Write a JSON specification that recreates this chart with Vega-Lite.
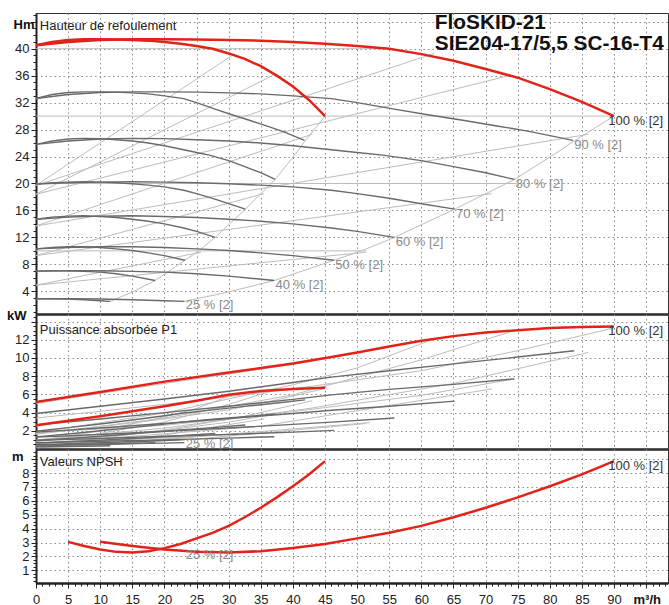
{
"$schema":"https://vega.github.io/schema/vega-lite/v6.json",
"padding":{"left":6,"top":11,"right":2,"bottom":0},
"spacing":0,
"bounds":"flush",
"config":{"font":"Liberation Sans","view":{"stroke":"#333","strokeWidth":1},
"axis":{"labelFont":"Liberation Sans","titleFont":"Liberation Sans","labelFontSize":13,"labelColor":"#222","tickColor":"#222","domainColor":"#222","gridColor":"#8c8c8c","gridDash":[1.5,3],"gridWidth":1,"titleFontSize":13,"titleFontWeight":"bold","titleColor":"#111","labelOverlap":false,"labelFlush":false}},
"datasets":{
"top":[
{"s":"r2","k":"r","q":0,"v":40.5},{"s":"r2","k":"r","q":5,"v":41.0},{"s":"r2","k":"r","q":10,"v":41.3},{"s":"r2","k":"r","q":15,"v":41.4},{"s":"r2","k":"r","q":20,"v":41.4},{"s":"r2","k":"r","q":25,"v":41.35},{"s":"r2","k":"r","q":30,"v":41.3},{"s":"r2","k":"r","q":35,"v":41.2},{"s":"r2","k":"r","q":40,"v":41.0},{"s":"r2","k":"r","q":45,"v":40.75},{"s":"r2","k":"r","q":50,"v":40.4},{"s":"r2","k":"r","q":55,"v":40.0},{"s":"r2","k":"r","q":60,"v":39.2},{"s":"r2","k":"r","q":65,"v":38.2},{"s":"r2","k":"r","q":70,"v":37.0},{"s":"r2","k":"r","q":75,"v":35.7},{"s":"r2","k":"r","q":80,"v":34.0},{"s":"r2","k":"r","q":85,"v":32.1},{"s":"r2","k":"r","q":90,"v":30.0},
{"s":"r1","k":"r","q":0,"v":40.5},{"s":"r1","k":"r","q":2.5,"v":41.0},{"s":"r1","k":"r","q":5,"v":41.3},{"s":"r1","k":"r","q":7.5,"v":41.4},{"s":"r1","k":"r","q":10,"v":41.4},{"s":"r1","k":"r","q":12.5,"v":41.35},{"s":"r1","k":"r","q":15,"v":41.3},{"s":"r1","k":"r","q":17.5,"v":41.2},{"s":"r1","k":"r","q":20,"v":41.0},{"s":"r1","k":"r","q":22.5,"v":40.75},{"s":"r1","k":"r","q":25,"v":40.4},{"s":"r1","k":"r","q":27.5,"v":40.0},{"s":"r1","k":"r","q":30,"v":39.3},{"s":"r1","k":"r","q":32.5,"v":38.5},{"s":"r1","k":"r","q":35,"v":37.4},{"s":"r1","k":"r","q":37.5,"v":36.0},{"s":"r1","k":"r","q":40,"v":34.4},{"s":"r1","k":"r","q":42.5,"v":32.4},{"s":"r1","k":"r","q":45,"v":30.0},
{"s":"g90_2","k":"g","q":0,"v":32.6},{"s":"g90_2","k":"g","q":5,"v":33.2},{"s":"g90_2","k":"g","q":10,"v":33.5},{"s":"g90_2","k":"g","q":15,"v":33.6},{"s":"g90_2","k":"g","q":20,"v":33.6},{"s":"g90_2","k":"g","q":25,"v":33.55},{"s":"g90_2","k":"g","q":30,"v":33.45},{"s":"g90_2","k":"g","q":35,"v":33.3},{"s":"g90_2","k":"g","q":40,"v":33.0},{"s":"g90_2","k":"g","q":46,"v":32.6},{"s":"g90_2","k":"g","q":50,"v":32.0},{"s":"g90_2","k":"g","q":56,"v":31.0},{"s":"g90_2","k":"g","q":61,"v":30.2},{"s":"g90_2","k":"g","q":66.7,"v":29.35},{"s":"g90_2","k":"g","q":72,"v":28.5},{"s":"g90_2","k":"g","q":77,"v":27.7},{"s":"g90_2","k":"g","q":83.6,"v":26.4},
{"s":"g90_1","k":"g","q":0,"v":32.6},{"s":"g90_1","k":"g","q":2.5,"v":33.2},{"s":"g90_1","k":"g","q":5,"v":33.5},{"s":"g90_1","k":"g","q":7.5,"v":33.6},{"s":"g90_1","k":"g","q":10,"v":33.6},{"s":"g90_1","k":"g","q":12.5,"v":33.55},{"s":"g90_1","k":"g","q":15,"v":33.45},{"s":"g90_1","k":"g","q":17.5,"v":33.3},{"s":"g90_1","k":"g","q":20,"v":33.0},{"s":"g90_1","k":"g","q":23,"v":32.6},{"s":"g90_1","k":"g","q":25,"v":32.0},{"s":"g90_1","k":"g","q":28,"v":31.0},{"s":"g90_1","k":"g","q":30.5,"v":30.2},{"s":"g90_1","k":"g","q":33.35,"v":29.35},{"s":"g90_1","k":"g","q":36,"v":28.5},{"s":"g90_1","k":"g","q":38.5,"v":27.7},{"s":"g90_1","k":"g","q":41.8,"v":26.4},
{"s":"g80_2","k":"g","q":0,"v":25.8},{"s":"g80_2","k":"g","q":5,"v":26.3},{"s":"g80_2","k":"g","q":10,"v":26.6},{"s":"g80_2","k":"g","q":15,"v":26.7},{"s":"g80_2","k":"g","q":20,"v":26.65},{"s":"g80_2","k":"g","q":25,"v":26.5},{"s":"g80_2","k":"g","q":30,"v":26.3},{"s":"g80_2","k":"g","q":35,"v":26.0},{"s":"g80_2","k":"g","q":40,"v":25.6},{"s":"g80_2","k":"g","q":46,"v":25.0},{"s":"g80_2","k":"g","q":50,"v":24.6},{"s":"g80_2","k":"g","q":54,"v":24.2},{"s":"g80_2","k":"g","q":60,"v":23.4},{"s":"g80_2","k":"g","q":65,"v":22.5},{"s":"g80_2","k":"g","q":70,"v":21.6},{"s":"g80_2","k":"g","q":74.5,"v":20.6},
{"s":"g80_1","k":"g","q":0,"v":25.8},{"s":"g80_1","k":"g","q":2.5,"v":26.3},{"s":"g80_1","k":"g","q":5,"v":26.6},{"s":"g80_1","k":"g","q":7.5,"v":26.7},{"s":"g80_1","k":"g","q":10,"v":26.65},{"s":"g80_1","k":"g","q":12.5,"v":26.5},{"s":"g80_1","k":"g","q":15,"v":26.3},{"s":"g80_1","k":"g","q":17.5,"v":26.0},{"s":"g80_1","k":"g","q":20,"v":25.6},{"s":"g80_1","k":"g","q":23,"v":25.0},{"s":"g80_1","k":"g","q":25,"v":24.6},{"s":"g80_1","k":"g","q":27,"v":24.2},{"s":"g80_1","k":"g","q":30,"v":23.4},{"s":"g80_1","k":"g","q":32.5,"v":22.5},{"s":"g80_1","k":"g","q":35,"v":21.6},{"s":"g80_1","k":"g","q":37.25,"v":20.6},
{"s":"g70_2","k":"g","q":0,"v":19.9},{"s":"g70_2","k":"g","q":5,"v":20.1},{"s":"g70_2","k":"g","q":10,"v":20.2},{"s":"g70_2","k":"g","q":15,"v":20.25},{"s":"g70_2","k":"g","q":20,"v":20.2},{"s":"g70_2","k":"g","q":25,"v":20.1},{"s":"g70_2","k":"g","q":30,"v":19.95},{"s":"g70_2","k":"g","q":35,"v":19.75},{"s":"g70_2","k":"g","q":40,"v":19.5},{"s":"g70_2","k":"g","q":46,"v":19.0},{"s":"g70_2","k":"g","q":50,"v":18.5},{"s":"g70_2","k":"g","q":55,"v":17.8},{"s":"g70_2","k":"g","q":60,"v":17.0},{"s":"g70_2","k":"g","q":65.2,"v":16.2},
{"s":"g70_1","k":"g","q":0,"v":19.9},{"s":"g70_1","k":"g","q":2.5,"v":20.1},{"s":"g70_1","k":"g","q":5,"v":20.2},{"s":"g70_1","k":"g","q":7.5,"v":20.25},{"s":"g70_1","k":"g","q":10,"v":20.2},{"s":"g70_1","k":"g","q":12.5,"v":20.1},{"s":"g70_1","k":"g","q":15,"v":19.95},{"s":"g70_1","k":"g","q":17.5,"v":19.75},{"s":"g70_1","k":"g","q":20,"v":19.5},{"s":"g70_1","k":"g","q":23,"v":19.0},{"s":"g70_1","k":"g","q":25,"v":18.5},{"s":"g70_1","k":"g","q":27.5,"v":17.8},{"s":"g70_1","k":"g","q":30,"v":17.0},{"s":"g70_1","k":"g","q":32.6,"v":16.2},
{"s":"g60_2","k":"g","q":0,"v":14.7},{"s":"g60_2","k":"g","q":5,"v":15.0},{"s":"g60_2","k":"g","q":10,"v":15.15},{"s":"g60_2","k":"g","q":15,"v":15.2},{"s":"g60_2","k":"g","q":20,"v":15.1},{"s":"g60_2","k":"g","q":25,"v":14.95},{"s":"g60_2","k":"g","q":30,"v":14.7},{"s":"g60_2","k":"g","q":35,"v":14.4},{"s":"g60_2","k":"g","q":40,"v":14.0},{"s":"g60_2","k":"g","q":46,"v":13.4},{"s":"g60_2","k":"g","q":50,"v":12.9},{"s":"g60_2","k":"g","q":55.8,"v":12.0},
{"s":"g60_1","k":"g","q":0,"v":14.7},{"s":"g60_1","k":"g","q":2.5,"v":15.0},{"s":"g60_1","k":"g","q":5,"v":15.15},{"s":"g60_1","k":"g","q":7.5,"v":15.2},{"s":"g60_1","k":"g","q":10,"v":15.1},{"s":"g60_1","k":"g","q":12.5,"v":14.95},{"s":"g60_1","k":"g","q":15,"v":14.7},{"s":"g60_1","k":"g","q":17.5,"v":14.4},{"s":"g60_1","k":"g","q":20,"v":14.0},{"s":"g60_1","k":"g","q":23,"v":13.4},{"s":"g60_1","k":"g","q":25,"v":12.9},{"s":"g60_1","k":"g","q":27.9,"v":12.0},
{"s":"g50_2","k":"g","q":0,"v":10.3},{"s":"g50_2","k":"g","q":5,"v":10.5},{"s":"g50_2","k":"g","q":10,"v":10.6},{"s":"g50_2","k":"g","q":15,"v":10.6},{"s":"g50_2","k":"g","q":20,"v":10.5},{"s":"g50_2","k":"g","q":25,"v":10.3},{"s":"g50_2","k":"g","q":30,"v":10.05},{"s":"g50_2","k":"g","q":35,"v":9.7},{"s":"g50_2","k":"g","q":40,"v":9.3},{"s":"g50_2","k":"g","q":46.4,"v":8.6},
{"s":"g50_1","k":"g","q":0,"v":10.3},{"s":"g50_1","k":"g","q":2.5,"v":10.5},{"s":"g50_1","k":"g","q":5,"v":10.6},{"s":"g50_1","k":"g","q":7.5,"v":10.6},{"s":"g50_1","k":"g","q":10,"v":10.5},{"s":"g50_1","k":"g","q":12.5,"v":10.3},{"s":"g50_1","k":"g","q":15,"v":10.05},{"s":"g50_1","k":"g","q":17.5,"v":9.7},{"s":"g50_1","k":"g","q":20,"v":9.3},{"s":"g50_1","k":"g","q":23.2,"v":8.6},
{"s":"g40_2","k":"g","q":0,"v":7.0},{"s":"g40_2","k":"g","q":5,"v":7.05},{"s":"g40_2","k":"g","q":10,"v":7.05},{"s":"g40_2","k":"g","q":15,"v":6.95},{"s":"g40_2","k":"g","q":20,"v":6.85},{"s":"g40_2","k":"g","q":25,"v":6.6},{"s":"g40_2","k":"g","q":30,"v":6.25},{"s":"g40_2","k":"g","q":37.1,"v":5.6},
{"s":"g40_1","k":"g","q":0,"v":7.0},{"s":"g40_1","k":"g","q":2.5,"v":7.05},{"s":"g40_1","k":"g","q":5,"v":7.05},{"s":"g40_1","k":"g","q":7.5,"v":6.95},{"s":"g40_1","k":"g","q":10,"v":6.85},{"s":"g40_1","k":"g","q":12.5,"v":6.6},{"s":"g40_1","k":"g","q":15,"v":6.25},{"s":"g40_1","k":"g","q":18.55,"v":5.6},
{"s":"g25_2","k":"g","q":0,"v":2.9},{"s":"g25_2","k":"g","q":5,"v":2.9},{"s":"g25_2","k":"g","q":10,"v":2.85},{"s":"g25_2","k":"g","q":15,"v":2.75},{"s":"g25_2","k":"g","q":20,"v":2.6},{"s":"g25_2","k":"g","q":23.1,"v":2.5},
{"s":"g25_1","k":"g","q":0,"v":2.9},{"s":"g25_1","k":"g","q":2.5,"v":2.9},{"s":"g25_1","k":"g","q":5,"v":2.85},{"s":"g25_1","k":"g","q":7.5,"v":2.75},{"s":"g25_1","k":"g","q":10,"v":2.6},{"s":"g25_1","k":"g","q":11.55,"v":2.5},
{"s":"lp2","k":"l","q":23.1,"v":2.5},{"s":"lp2","k":"l","q":30,"v":3.9},{"s":"lp2","k":"l","q":37.1,"v":5.6},{"s":"lp2","k":"l","q":46.4,"v":8.6},{"s":"lp2","k":"l","q":51.2,"v":10.2},{"s":"lp2","k":"l","q":55.8,"v":12.0},{"s":"lp2","k":"l","q":65.2,"v":16.2},{"s":"lp2","k":"l","q":74.5,"v":20.6},{"s":"lp2","k":"l","q":81.3,"v":24.7},{"s":"lp2","k":"l","q":83.6,"v":26.2},{"s":"lp2","k":"l","q":90,"v":30.0},
{"s":"lp1","k":"l","q":11.55,"v":2.5},{"s":"lp1","k":"l","q":15,"v":3.9},{"s":"lp1","k":"l","q":18.55,"v":5.6},{"s":"lp1","k":"l","q":23.2,"v":8.6},{"s":"lp1","k":"l","q":25.6,"v":10.2},{"s":"lp1","k":"l","q":27.9,"v":12.0},{"s":"lp1","k":"l","q":32.6,"v":16.2},{"s":"lp1","k":"l","q":37.25,"v":20.6},{"s":"lp1","k":"l","q":40.65,"v":24.7},{"s":"lp1","k":"l","q":41.8,"v":26.2},{"s":"lp1","k":"l","q":45,"v":30.0},
{"s":"c1_2","k":"l","q":0,"v":19.7},{"s":"c1_2","k":"l","q":62,"v":39.3},{"s":"c1_1","k":"l","q":0,"v":19.7},{"s":"c1_1","k":"l","q":31,"v":39.3},
{"s":"c2_2","k":"l","q":0,"v":18.4},{"s":"c2_2","k":"l","q":74,"v":36.1},{"s":"c2_1","k":"l","q":0,"v":18.4},{"s":"c2_1","k":"l","q":37,"v":36.1},
{"s":"c3_2","k":"l","q":0,"v":13.7},{"s":"c3_2","k":"l","q":86,"v":27.3},{"s":"c3_1","k":"l","q":0,"v":13.7},{"s":"c3_1","k":"l","q":43,"v":27.3},
{"s":"c4_2","k":"l","q":0,"v":9.3},{"s":"c4_2","k":"l","q":71,"v":18.5},{"s":"c4_1","k":"l","q":0,"v":9.3},{"s":"c4_1","k":"l","q":35.5,"v":18.5},
{"s":"c5_2","k":"l","q":0,"v":4.9},{"s":"c5_2","k":"l","q":51.4,"v":9.8},{"s":"c5_1","k":"l","q":0,"v":4.9},{"s":"c5_1","k":"l","q":25.7,"v":9.8},
{"s":"h40","k":"l","q":0,"v":40},{"s":"h40","k":"l","q":55,"v":40},{"s":"h30","k":"l","q":0,"v":30},{"s":"h30","k":"l","q":90,"v":30},{"s":"h20","k":"l","q":0,"v":20},{"s":"h20","k":"l","q":74.8,"v":20},{"s":"h10","k":"l","q":0,"v":10},{"s":"h10","k":"l","q":51.4,"v":10}
],
"mid":[
{"s":"r2","k":"r","q":0,"v":5.15},{"s":"r2","k":"r","q":10,"v":6.25},{"s":"r2","k":"r","q":20,"v":7.4},{"s":"r2","k":"r","q":30,"v":8.4},{"s":"r2","k":"r","q":40,"v":9.4},{"s":"r2","k":"r","q":46,"v":10.1},{"s":"r2","k":"r","q":50,"v":10.6},{"s":"r2","k":"r","q":55,"v":11.25},{"s":"r2","k":"r","q":60,"v":11.9},{"s":"r2","k":"r","q":65,"v":12.4},{"s":"r2","k":"r","q":70,"v":12.8},{"s":"r2","k":"r","q":75,"v":13.05},{"s":"r2","k":"r","q":80,"v":13.3},{"s":"r2","k":"r","q":85,"v":13.4},{"s":"r2","k":"r","q":90,"v":13.45},
{"s":"r1","k":"r","q":0,"v":2.6},{"s":"r1","k":"r","q":5,"v":3.1},{"s":"r1","k":"r","q":10,"v":3.6},{"s":"r1","k":"r","q":15,"v":4.15},{"s":"r1","k":"r","q":20,"v":4.7},{"s":"r1","k":"r","q":25,"v":5.3},{"s":"r1","k":"r","q":30,"v":5.95},{"s":"r1","k":"r","q":35,"v":6.37},{"s":"r1","k":"r","q":40,"v":6.6},{"s":"r1","k":"r","q":45,"v":6.72},
{"s":"g90_2","k":"g","q":0,"v":3.9},{"s":"g90_2","k":"g","q":10,"v":4.7},{"s":"g90_2","k":"g","q":20,"v":5.5},{"s":"g90_2","k":"g","q":30,"v":6.35},{"s":"g90_2","k":"g","q":40,"v":7.3},{"s":"g90_2","k":"g","q":46,"v":7.9},{"s":"g90_2","k":"g","q":55,"v":8.6},{"s":"g90_2","k":"g","q":65,"v":9.35},{"s":"g90_2","k":"g","q":75,"v":10.1},{"s":"g90_2","k":"g","q":83.8,"v":10.8},
{"s":"g90_1","k":"g","q":0,"v":1.95},{"s":"g90_1","k":"g","q":5,"v":2.35},{"s":"g90_1","k":"g","q":10,"v":2.75},{"s":"g90_1","k":"g","q":15,"v":3.18},{"s":"g90_1","k":"g","q":20,"v":3.65},{"s":"g90_1","k":"g","q":23,"v":3.95},{"s":"g90_1","k":"g","q":27.5,"v":4.3},{"s":"g90_1","k":"g","q":32.5,"v":4.68},{"s":"g90_1","k":"g","q":37.5,"v":5.05},{"s":"g90_1","k":"g","q":41.9,"v":5.4},
{"s":"g80_2","k":"g","q":0,"v":2.65},{"s":"g80_2","k":"g","q":10,"v":3.3},{"s":"g80_2","k":"g","q":20,"v":4.0},{"s":"g80_2","k":"g","q":30,"v":4.7},{"s":"g80_2","k":"g","q":40,"v":5.45},{"s":"g80_2","k":"g","q":46,"v":5.95},{"s":"g80_2","k":"g","q":55,"v":6.55},{"s":"g80_2","k":"g","q":65,"v":7.1},{"s":"g80_2","k":"g","q":74.5,"v":7.7},
{"s":"g80_1","k":"g","q":0,"v":1.33},{"s":"g80_1","k":"g","q":5,"v":1.65},{"s":"g80_1","k":"g","q":10,"v":2.0},{"s":"g80_1","k":"g","q":15,"v":2.35},{"s":"g80_1","k":"g","q":20,"v":2.73},{"s":"g80_1","k":"g","q":23,"v":2.98},{"s":"g80_1","k":"g","q":27.5,"v":3.28},{"s":"g80_1","k":"g","q":32.5,"v":3.55},{"s":"g80_1","k":"g","q":37.25,"v":3.85},
{"s":"g70_2","k":"g","q":0,"v":1.85},{"s":"g70_2","k":"g","q":10,"v":2.3},{"s":"g70_2","k":"g","q":20,"v":2.8},{"s":"g70_2","k":"g","q":30,"v":3.35},{"s":"g70_2","k":"g","q":40,"v":3.9},{"s":"g70_2","k":"g","q":46,"v":4.25},{"s":"g70_2","k":"g","q":55,"v":4.7},{"s":"g70_2","k":"g","q":65.2,"v":5.26},
{"s":"g70_1","k":"g","q":0,"v":0.93},{"s":"g70_1","k":"g","q":5,"v":1.15},{"s":"g70_1","k":"g","q":10,"v":1.4},{"s":"g70_1","k":"g","q":15,"v":1.68},{"s":"g70_1","k":"g","q":20,"v":1.95},{"s":"g70_1","k":"g","q":23,"v":2.13},{"s":"g70_1","k":"g","q":27.5,"v":2.35},{"s":"g70_1","k":"g","q":32.6,"v":2.63},
{"s":"g60_2","k":"g","q":0,"v":1.3},{"s":"g60_2","k":"g","q":10,"v":1.6},{"s":"g60_2","k":"g","q":20,"v":1.95},{"s":"g60_2","k":"g","q":30,"v":2.3},{"s":"g60_2","k":"g","q":40,"v":2.7},{"s":"g60_2","k":"g","q":46,"v":2.95},{"s":"g60_2","k":"g","q":55.8,"v":3.4},
{"s":"g60_1","k":"g","q":0,"v":0.65},{"s":"g60_1","k":"g","q":5,"v":0.8},{"s":"g60_1","k":"g","q":10,"v":0.98},{"s":"g60_1","k":"g","q":15,"v":1.15},{"s":"g60_1","k":"g","q":20,"v":1.35},{"s":"g60_1","k":"g","q":23,"v":1.48},{"s":"g60_1","k":"g","q":27.9,"v":1.7},
{"s":"g50_2","k":"g","q":0,"v":0.95},{"s":"g50_2","k":"g","q":10,"v":1.15},{"s":"g50_2","k":"g","q":20,"v":1.4},{"s":"g50_2","k":"g","q":30,"v":1.6},{"s":"g50_2","k":"g","q":40,"v":1.85},{"s":"g50_2","k":"g","q":46.4,"v":2.05},
{"s":"g50_1","k":"g","q":0,"v":0.48},{"s":"g50_1","k":"g","q":5,"v":0.58},{"s":"g50_1","k":"g","q":10,"v":0.7},{"s":"g50_1","k":"g","q":15,"v":0.8},{"s":"g50_1","k":"g","q":20,"v":0.93},{"s":"g50_1","k":"g","q":23.2,"v":1.03},
{"s":"g40_2","k":"g","q":0,"v":0.7},{"s":"g40_2","k":"g","q":10,"v":0.85},{"s":"g40_2","k":"g","q":20,"v":1.0},{"s":"g40_2","k":"g","q":30,"v":1.2},{"s":"g40_2","k":"g","q":37.1,"v":1.35},
{"s":"g40_1","k":"g","q":0,"v":0.35},{"s":"g40_1","k":"g","q":5,"v":0.43},{"s":"g40_1","k":"g","q":10,"v":0.5},{"s":"g40_1","k":"g","q":15,"v":0.6},{"s":"g40_1","k":"g","q":18.55,"v":0.68},
{"s":"g25_2","k":"g","q":0,"v":0.45},{"s":"g25_2","k":"g","q":10,"v":0.55},{"s":"g25_2","k":"g","q":20,"v":0.65},{"s":"g25_2","k":"g","q":23.1,"v":0.7},
{"s":"g25_1","k":"g","q":0,"v":0.23},{"s":"g25_1","k":"g","q":5,"v":0.28},{"s":"g25_1","k":"g","q":10,"v":0.33},{"s":"g25_1","k":"g","q":11.55,"v":0.35},
{"s":"c1_2","k":"l","q":0,"v":1.8},{"s":"c1_2","k":"l","q":20,"v":3.95},{"s":"c1_2","k":"l","q":40,"v":7.05},{"s":"c1_2","k":"l","q":50,"v":8.9},{"s":"c1_2","k":"l","q":62,"v":12.1},
{"s":"c1_1","k":"l","q":0,"v":0.9},{"s":"c1_1","k":"l","q":10,"v":1.98},{"s":"c1_1","k":"l","q":20,"v":3.53},{"s":"c1_1","k":"l","q":25,"v":4.45},{"s":"c1_1","k":"l","q":31,"v":6.05},
{"s":"c2_2","k":"l","q":0,"v":1.6},{"s":"c2_2","k":"l","q":20,"v":3.4},{"s":"c2_2","k":"l","q":40,"v":5.95},{"s":"c2_2","k":"l","q":60,"v":9.8},{"s":"c2_2","k":"l","q":74,"v":12.9},
{"s":"c2_1","k":"l","q":0,"v":0.8},{"s":"c2_1","k":"l","q":10,"v":1.7},{"s":"c2_1","k":"l","q":20,"v":2.98},{"s":"c2_1","k":"l","q":30,"v":4.9},{"s":"c2_1","k":"l","q":37,"v":6.45},
{"s":"h30_2","k":"l","q":0,"v":3.4},{"s":"h30_2","k":"l","q":20,"v":4.9},{"s":"h30_2","k":"l","q":40,"v":6.6},{"s":"h30_2","k":"l","q":60,"v":8.6},{"s":"h30_2","k":"l","q":75,"v":10.8},{"s":"h30_2","k":"l","q":90,"v":13.3},
{"s":"h30_1","k":"l","q":0,"v":1.7},{"s":"h30_1","k":"l","q":10,"v":2.45},{"s":"h30_1","k":"l","q":20,"v":3.3},{"s":"h30_1","k":"l","q":30,"v":4.3},{"s":"h30_1","k":"l","q":37.5,"v":5.4},{"s":"h30_1","k":"l","q":45,"v":6.65},
{"s":"c3_2","k":"l","q":0,"v":1.0},{"s":"c3_2","k":"l","q":20,"v":2.3},{"s":"c3_2","k":"l","q":43,"v":4.5},{"s":"c3_2","k":"l","q":65,"v":7.2},{"s":"c3_2","k":"l","q":86,"v":10.6},
{"s":"c3_1","k":"l","q":0,"v":0.5},{"s":"c3_1","k":"l","q":10,"v":1.15},{"s":"c3_1","k":"l","q":21.5,"v":2.25},{"s":"c3_1","k":"l","q":32.5,"v":3.6},{"s":"c3_1","k":"l","q":43,"v":5.3},
{"s":"h20_2","k":"l","q":0,"v":1.8},{"s":"h20_2","k":"l","q":20,"v":2.6},{"s":"h20_2","k":"l","q":40,"v":4.1},{"s":"h20_2","k":"l","q":60,"v":5.9},{"s":"h20_2","k":"l","q":74.5,"v":7.7},
{"s":"h20_1","k":"l","q":0,"v":0.9},{"s":"h20_1","k":"l","q":10,"v":1.3},{"s":"h20_1","k":"l","q":20,"v":2.05},{"s":"h20_1","k":"l","q":30,"v":2.95},{"s":"h20_1","k":"l","q":37.25,"v":3.85},
{"s":"c4_2","k":"l","q":0,"v":0.57},{"s":"c4_2","k":"l","q":35,"v":2.5},{"s":"c4_2","k":"l","q":71,"v":6.6},
{"s":"c4_1","k":"l","q":0,"v":0.29},{"s":"c4_1","k":"l","q":17.5,"v":1.25},{"s":"c4_1","k":"l","q":35.5,"v":3.3},
{"s":"h10_2","k":"l","q":0,"v":0.64},{"s":"h10_2","k":"l","q":26,"v":1.4},{"s":"h10_2","k":"l","q":52,"v":2.9},
{"s":"h10_1","k":"l","q":0,"v":0.32},{"s":"h10_1","k":"l","q":13,"v":0.7},{"s":"h10_1","k":"l","q":26,"v":1.45},
{"s":"c5_2","k":"l","q":0,"v":0.25},{"s":"c5_2","k":"l","q":25,"v":1.1},{"s":"c5_2","k":"l","q":51.4,"v":2.8},
{"s":"c5_1","k":"l","q":0,"v":0.13},{"s":"c5_1","k":"l","q":12.5,"v":0.55},{"s":"c5_1","k":"l","q":25.7,"v":1.4},
{"s":"h40_2","k":"l","q":0,"v":5.0},{"s":"h40_2","k":"l","q":20,"v":7.2},{"s":"h40_2","k":"l","q":40,"v":9.3},{"s":"h40_2","k":"l","q":55,"v":11.2},
{"s":"h40_1","k":"l","q":0,"v":2.5},{"s":"h40_1","k":"l","q":10,"v":3.6},{"s":"h40_1","k":"l","q":20,"v":4.65},{"s":"h40_1","k":"l","q":27.5,"v":5.6}
],
"bot":[
{"s":"n1","k":"r","q":5,"v":3.05},{"s":"n1","k":"r","q":7.5,"v":2.75},{"s":"n1","k":"r","q":10,"v":2.5},{"s":"n1","k":"r","q":12.5,"v":2.33},{"s":"n1","k":"r","q":15,"v":2.28},{"s":"n1","k":"r","q":17.5,"v":2.38},{"s":"n1","k":"r","q":20,"v":2.6},{"s":"n1","k":"r","q":22.5,"v":2.9},{"s":"n1","k":"r","q":25,"v":3.3},{"s":"n1","k":"r","q":27.5,"v":3.7},{"s":"n1","k":"r","q":30,"v":4.2},{"s":"n1","k":"r","q":32.5,"v":4.82},{"s":"n1","k":"r","q":35,"v":5.5},{"s":"n1","k":"r","q":37.5,"v":6.25},{"s":"n1","k":"r","q":40,"v":7.05},{"s":"n1","k":"r","q":42.5,"v":7.9},{"s":"n1","k":"r","q":45,"v":8.86},
{"s":"n2","k":"r","q":10,"v":3.05},{"s":"n2","k":"r","q":15,"v":2.75},{"s":"n2","k":"r","q":20,"v":2.5},{"s":"n2","k":"r","q":25,"v":2.33},{"s":"n2","k":"r","q":30,"v":2.28},{"s":"n2","k":"r","q":35,"v":2.38},{"s":"n2","k":"r","q":40,"v":2.6},{"s":"n2","k":"r","q":45,"v":2.9},{"s":"n2","k":"r","q":50,"v":3.3},{"s":"n2","k":"r","q":55,"v":3.7},{"s":"n2","k":"r","q":60,"v":4.2},{"s":"n2","k":"r","q":65,"v":4.82},{"s":"n2","k":"r","q":70,"v":5.5},{"s":"n2","k":"r","q":75,"v":6.25},{"s":"n2","k":"r","q":80,"v":7.05},{"s":"n2","k":"r","q":85,"v":7.9},{"s":"n2","k":"r","q":90,"v":8.86}
],
"labels":[
{"p":"top","q":89.1,"v":30.0,"t":"100 % [2]","c":"d"},{"p":"top","q":83.8,"v":26.4,"t":"90 % [2]","c":"g"},{"p":"top","q":74.7,"v":20.6,"t":"80 % [2]","c":"g"},{"p":"top","q":65.4,"v":16.2,"t":"70 % [2]","c":"g"},{"p":"top","q":56.0,"v":12.0,"t":"60 % [2]","c":"g"},{"p":"top","q":46.6,"v":8.6,"t":"50 % [2]","c":"g"},{"p":"top","q":37.3,"v":5.6,"t":"40 % [2]","c":"g"},{"p":"top","q":23.3,"v":2.6,"t":"25 % [2]","c":"g"},
{"p":"mid","q":89.1,"v":13.45,"t":"100 % [2]","c":"d"},{"p":"mid","q":23.3,"v":1.05,"t":"25 % [2]","c":"g"},
{"p":"bot","q":89.1,"v":8.86,"t":"100 % [2]","c":"d"},{"p":"bot","q":23.3,"v":2.45,"t":"25 % [2]","c":"g"}
],
"heads":[
{"p":"top","q":0.6,"v":42.82,"t":"Hauteur de refoulement"},{"p":"mid","q":0.6,"v":12.66,"t":"Puissance absorbée P1"},{"p":"bot","q":0.6,"v":8.49,"t":"Valeurs NPSH"}
],
"titles":[
{"q":62.1,"v":42.9,"t":"FloSKID-21"},{"q":62.1,"v":39.85,"t":"SIE204-17/5,5 SC-16-T4"}
]
},
"vconcat":[
{"width":632,"height":301,
"layer":[
{"data":{"name":"top"},"transform":[{"filter":"datum.k=='l'"}],"mark":{"type":"line","color":"#bcbcbc","strokeWidth":1,"clip":true},
"encoding":{"x":{"field":"q","type":"quantitative","scale":{"domain":[0,98.4],"nice":false,"zero":false},"axis":{"orient":"bottom","values":[5,10,15,20,25,30,35,40,45,50,55,60,65,70,75,80,85,90,95],"grid":true,"labels":false,"ticks":false,"domain":true,"domainWidth":2.5,"title":null}},
"y":{"field":"v","type":"quantitative","scale":{"domain":[0.63,45.3],"nice":false,"zero":false},"axis":{"orient":"left","values":[4,8,12,16,20,24,28,32,36,40,44],"labelExpr":"datum.value==44?'':datum.label","grid":true,"tickSize":5,"domain":true,"domainWidth":2,"labelPadding":2,"title":"Hm","titleAngle":0,"titleAlign":"right","titleBaseline":"alphabetic","titleX":-2,"titleY":15}},
"detail":{"field":"s"}}},
{"data":{"name":"top"},"transform":[{"filter":"datum.k=='g'"}],"mark":{"type":"line","color":"#6a6a6a","strokeWidth":1.4,"clip":true},
"encoding":{"x":{"field":"q","type":"quantitative","axis":null},
"y":{"field":"v","type":"quantitative","axis":{"orient":"left","values":[1,2,3,4,5,6,7,8,9,10,11,12,13,14,15,16,17,18,19,20,21,22,23,24,25,26,27,28,29,30,31,32,33,34,35,36,37,38,39,40,41,42,43,44,45],"labels":false,"grid":false,"domain":false,"tickSize":3,"title":null}},
"detail":{"field":"s"}}},
{"data":{"name":"top"},"transform":[{"filter":"datum.k=='r'"}],"mark":{"type":"line","color":"#e2231a","strokeWidth":2.5,"clip":true},
"encoding":{"x":{"field":"q","type":"quantitative","axis":null},"y":{"field":"v","type":"quantitative","axis":null},"detail":{"field":"s"}}},
{"data":{"name":"labels"},"transform":[{"filter":"datum.p=='top'"}],"mark":{"type":"text","align":"left","baseline":"middle","dy":4.5,"fontSize":13,"font":"Liberation Sans"},
"encoding":{"x":{"field":"q","type":"quantitative","axis":null},"y":{"field":"v","type":"quantitative","axis":null},"text":{"field":"t"},"color":{"field":"c","type":"nominal","scale":{"domain":["d","g"],"range":["#333333","#8a8a8a"]},"legend":null}}},
{"data":{"name":"heads"},"transform":[{"filter":"datum.p=='top'"}],"mark":{"type":"text","align":"left","baseline":"alphabetic","fontSize":13,"font":"Liberation Sans","color":"#222"},
"encoding":{"x":{"field":"q","type":"quantitative","axis":null},"y":{"field":"v","type":"quantitative","axis":null},"text":{"field":"t"}}},
{"data":{"name":"titles"},"mark":{"type":"text","align":"left","baseline":"alphabetic","fontSize":20.8,"fontWeight":"bold","font":"Liberation Sans","color":"#111"},
"encoding":{"x":{"field":"q","type":"quantitative","axis":null},"y":{"field":"v","type":"quantitative","axis":null},"text":{"field":"t"}}}
],
"resolve":{"axis":{"x":"independent","y":"independent"}}},
{"width":632,"height":135,
"layer":[
{"data":{"name":"mid"},"transform":[{"filter":"datum.k=='l'"}],"mark":{"type":"line","color":"#bcbcbc","strokeWidth":1,"clip":true},
"encoding":{"x":{"field":"q","type":"quantitative","scale":{"domain":[0,98.4],"nice":false,"zero":false},"axis":{"orient":"bottom","values":[5,10,15,20,25,30,35,40,45,50,55,60,65,70,75,80,85,90,95],"grid":true,"labels":false,"ticks":false,"domain":true,"domainWidth":2.5,"title":null}},
"y":{"field":"v","type":"quantitative","scale":{"domain":[0,14.83],"nice":false,"zero":false},"axis":{"orient":"left","values":[2,4,6,8,10,12,14],"labelExpr":"datum.value==14?'':datum.label","grid":true,"tickSize":5,"domain":true,"domainWidth":2,"labelPadding":2,"title":"kW","titleAngle":0,"titleAlign":"right","titleBaseline":"alphabetic","titleX":-10,"titleY":5}},
"detail":{"field":"s"}}},
{"data":{"name":"mid"},"transform":[{"filter":"datum.k=='g'"}],"mark":{"type":"line","color":"#6a6a6a","strokeWidth":1.4,"clip":true},
"encoding":{"x":{"field":"q","type":"quantitative","axis":null},
"y":{"field":"v","type":"quantitative","axis":{"orient":"left","values":[0.5,1,1.5,2,2.5,3,3.5,4,4.5,5,5.5,6,6.5,7,7.5,8,8.5,9,9.5,10,10.5,11,11.5,12,12.5,13,13.5,14,14.5],"labels":false,"grid":false,"domain":false,"tickSize":3,"title":null}},
"detail":{"field":"s"}}},
{"data":{"name":"mid"},"transform":[{"filter":"datum.k=='r'"}],"mark":{"type":"line","color":"#e2231a","strokeWidth":2.5,"clip":true},
"encoding":{"x":{"field":"q","type":"quantitative","axis":null},"y":{"field":"v","type":"quantitative","axis":null},"detail":{"field":"s"}}},
{"data":{"name":"labels"},"transform":[{"filter":"datum.p=='mid'"}],"mark":{"type":"text","align":"left","baseline":"middle","dy":4.5,"fontSize":13,"font":"Liberation Sans"},
"encoding":{"x":{"field":"q","type":"quantitative","axis":null},"y":{"field":"v","type":"quantitative","axis":null},"text":{"field":"t"},"color":{"field":"c","type":"nominal","scale":{"domain":["d","g"],"range":["#333333","#8a8a8a"]},"legend":null}}},
{"data":{"name":"heads"},"transform":[{"filter":"datum.p=='mid'"}],"mark":{"type":"text","align":"left","baseline":"alphabetic","fontSize":13,"font":"Liberation Sans","color":"#222"},
"encoding":{"x":{"field":"q","type":"quantitative","axis":null},"y":{"field":"v","type":"quantitative","axis":null},"text":{"field":"t"}}}
],
"resolve":{"axis":{"x":"independent","y":"independent"}}},
{"width":632,"height":134,
"layer":[
{"data":{"name":"bot"},"mark":{"type":"line","color":"#e2231a","strokeWidth":2.5,"clip":true},
"encoding":{"x":{"field":"q","type":"quantitative","scale":{"domain":[0,98.4],"nice":false,"zero":false},"axis":{"orient":"bottom","values":[0,5,10,15,20,25,30,35,40,45,50,55,60,65,70,75,80,85,90,95],"labelExpr":"datum.value==95?'':datum.label","grid":true,"tickSize":5,"domain":true,"domainWidth":2.5,"labelBaseline":"alphabetic","labelPadding":15,"title":"m³/h","titleX":597,"titleY":20,"titleAlign":"left","titleBaseline":"alphabetic","titleAngle":0}},
"y":{"field":"v","type":"quantitative","scale":{"domain":[0.09,9.73],"nice":false,"zero":false},"axis":{"orient":"left","values":[1,2,3,4,5,6,7,8,9],"labelExpr":"datum.value==9?'':datum.label","grid":true,"tickSize":5,"domain":true,"domainWidth":2,"labelPadding":2,"title":"m","titleAngle":0,"titleAlign":"right","titleBaseline":"alphabetic","titleX":-13,"titleY":11}},
"detail":{"field":"s"}}},
{"data":{"name":"labels"},"transform":[{"filter":"datum.p=='bot'"}],"mark":{"type":"text","align":"left","baseline":"middle","dy":4.5,"fontSize":13,"font":"Liberation Sans"},
"encoding":{"x":{"field":"q","type":"quantitative","axis":{"orient":"bottom","values":[1,2,3,4,5,6,7,8,9,10,11,12,13,14,15,16,17,18,19,20,21,22,23,24,25,26,27,28,29,30,31,32,33,34,35,36,37,38,39,40,41,42,43,44,45,46,47,48,49,50,51,52,53,54,55,56,57,58,59,60,61,62,63,64,65,66,67,68,69,70,71,72,73,74,75,76,77,78,79,80,81,82,83,84,85,86,87,88,89,90,91,92,93,94,95,96,97,98],"labels":false,"grid":false,"domain":false,"tickSize":3,"title":null}},
"y":{"field":"v","type":"quantitative","axis":{"orient":"left","values":[0.25,0.5,0.75,1,1.25,1.5,1.75,2,2.25,2.5,2.75,3,3.25,3.5,3.75,4,4.25,4.5,4.75,5,5.25,5.5,5.75,6,6.25,6.5,6.75,7,7.25,7.5,7.75,8,8.25,8.5,8.75,9,9.25,9.5],"labels":false,"grid":false,"domain":false,"tickSize":3,"title":null}},
"text":{"field":"t"},"color":{"field":"c","type":"nominal","scale":{"domain":["d","g"],"range":["#333333","#8a8a8a"]},"legend":null}}},
{"data":{"name":"heads"},"transform":[{"filter":"datum.p=='bot'"}],"mark":{"type":"text","align":"left","baseline":"alphabetic","fontSize":13,"font":"Liberation Sans","color":"#222"},
"encoding":{"x":{"field":"q","type":"quantitative","axis":null},"y":{"field":"v","type":"quantitative","axis":null},"text":{"field":"t"}}}
],
"resolve":{"axis":{"x":"independent","y":"independent"}}}
]
}
